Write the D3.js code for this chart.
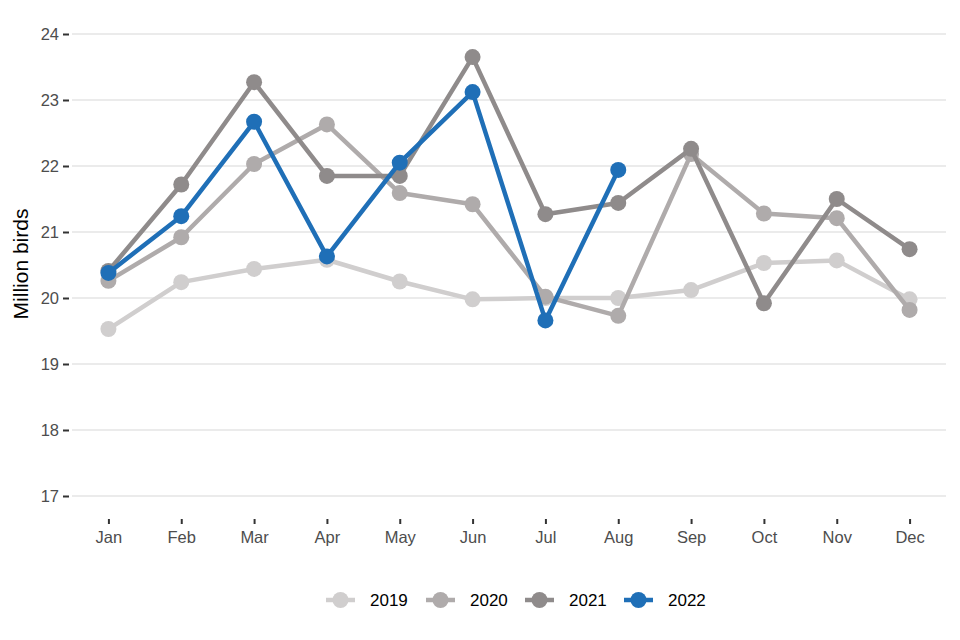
<!DOCTYPE html>
<html><head><meta charset="utf-8">
<script src="https://cdn.jsdelivr.net/npm/d3@7"></script>
<style>body{margin:0;background:#fff;font-family:"Liberation Sans",Arial,sans-serif;}</style>
</head><body><svg id="c" width="960" height="640"></svg>
<script>
const months = ["Jan","Feb","Mar","Apr","May","Jun","Jul","Aug","Sep","Oct","Nov","Dec"];
const years = ["2019","2020","2021","2022"];
const v2019 = [19.53,20.24,20.44,20.58,20.25,19.98,20.00,20.00,20.12,20.53,20.57,19.98];
const v2020 = [20.26,20.92,22.03,22.63,21.59,21.42,20.02,19.73,22.18,21.28,21.21,19.82];
const v2021 = [20.41,21.72,23.27,21.85,21.85,23.65,21.27,21.44,22.26,19.92,21.50,20.74];
const v2022 = [20.38,21.24,22.67,20.63,22.05,23.12,19.66,21.94];
const yTicks = [17,18,19,20,21,22,23,24];
const colors = ["#d0cece","#afabab","#8f8b8b","#1f6fb7"];

const seriesList = [v2019,v2020,v2021,v2022].map((vals,i)=>({year:years[i],color:colors[i],vals}));
const FONT = "Liberation Sans, Arial, sans-serif";

const svg = d3.select("#c");
const x = d3.scalePoint().domain(months).range([72,946]).padding(0.5);
const y = d3.scaleLinear().domain([17,24]).range([496,34]);

// gridlines
svg.append("g").selectAll("line").data(yTicks).join("line")
  .attr("x1",72).attr("x2",946).attr("y1",d=>y(d)).attr("y2",d=>y(d))
  .attr("stroke","#ebebeb").attr("stroke-width",2);

// y axis
const ya = svg.append("g").attr("transform","translate(69,0)")
  .call(d3.axisLeft(y).tickValues(yTicks).tickSize(6).tickPadding(4).tickFormat(d3.format("d")));
ya.select(".domain").remove();
ya.selectAll(".tick line").attr("stroke","#333").attr("stroke-width",2);
ya.selectAll("text").attr("font-family",FONT).attr("font-size",16.5).attr("fill","#4d4d4d");

// x axis
const xa = svg.append("g").attr("transform","translate(0,519)")
  .call(d3.axisBottom(x).tickSize(5).tickPadding(7));
xa.select(".domain").remove();
xa.selectAll(".tick line").attr("stroke","#333").attr("stroke-width",2);
xa.selectAll("text").attr("font-family",FONT).attr("font-size",16.5).attr("fill","#4d4d4d");

// y title
svg.append("text").attr("transform","translate(28,264) rotate(-90)")
  .attr("text-anchor","middle").attr("font-size",21).attr("fill","#000")
  .attr("font-family",FONT).text("Million birds");

const line = d3.line().x((d,i)=>x(months[i])).y(d=>y(d));
const g = svg.append("g");
seriesList.forEach(s=>{
  const sg = g.append("g");
  sg.append("path").attr("d",line(s.vals)).attr("fill","none")
    .attr("stroke",s.color).attr("stroke-width",4.5).attr("stroke-linejoin","round");
  sg.selectAll("circle").data(s.vals).join("circle")
    .attr("cx",(d,i)=>x(months[i])).attr("cy",d=>y(d)).attr("r",8).attr("fill",s.color);
});

// legend
const legX = [326,426,525,624];
const lg = svg.append("g");
seriesList.forEach((s,i)=>{
  const gx = legX[i];
  lg.append("line").attr("x1",gx).attr("x2",gx+29).attr("y1",600).attr("y2",600)
    .attr("stroke",s.color).attr("stroke-width",4.5);
  lg.append("circle").attr("cx",gx+14.5).attr("cy",600).attr("r",8).attr("fill",s.color);
  lg.append("text").attr("x",gx+44).attr("y",606).attr("font-size",17).attr("fill","#000")
    .attr("font-family",FONT).text(s.year);
});
</script></body></html>
